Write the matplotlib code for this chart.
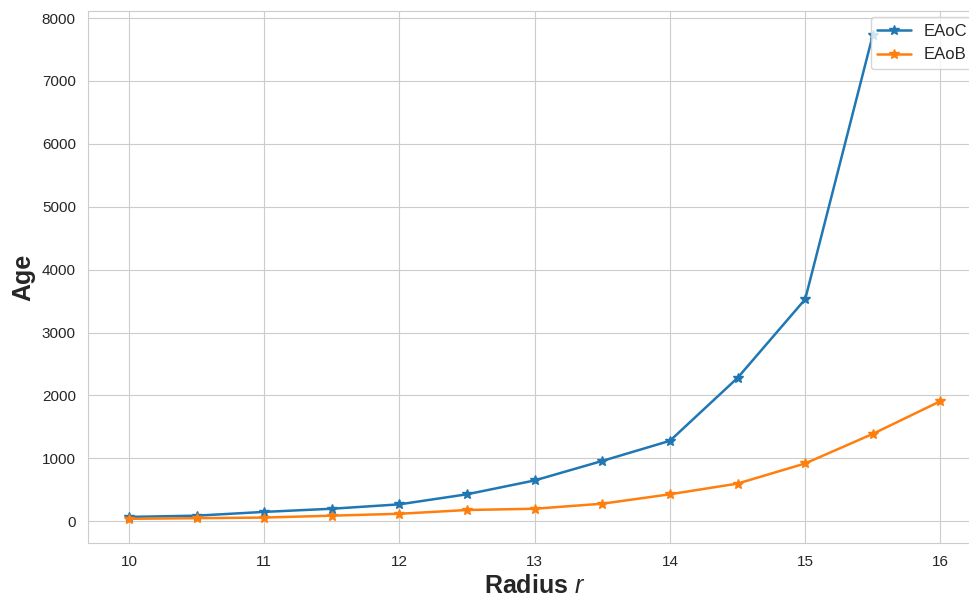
import numpy as np
import seaborn as sns
from matplotlib import pyplot as plt

# radius values and mean ages per method
radius = [10, 10.5, 11, 11.5, 12, 12.5, 13, 13.5, 14, 14.5, 15, 15.5, 16]
eaoc = [70, 90, 150, 200, 270, 430, 650, 960, 1280, 2280, 3530, 7730, np.nan]
eaob = [40, 50, 60, 90, 120, 180, 200, 280, 430, 600, 920, 1390, 1910]

sns.set_style("whitegrid")
plt.rcParams['font.family'] = ['Liberation Sans', 'DejaVu Sans']
plt.rcParams['mathtext.fontset'] = 'custom'
plt.rcParams['mathtext.it'] = 'Liberation Sans:italic'
plt.rcParams['mathtext.rm'] = 'Liberation Sans'

fig = plt.figure(figsize=(9.69, 6), dpi=100)
ax = fig.add_subplot(111)
fig.subplots_adjust(left=0.0912, right=1.0124, top=0.982, bottom=0.095)

ax.plot(radius, eaoc, marker='*', markersize=7, linewidth=1.8, label='EAoC')
ax.plot(radius, eaob, marker='*', markersize=7, linewidth=1.8, label='EAoB')

hfont = {'fontweight': 'bold', 'fontsize': 18}
ax.set_xlabel('Radius $r$', **hfont, labelpad=3)
ax.set_ylabel('Age', **hfont, labelpad=5)
ax.tick_params(labelsize=11, pad=5.5)

ax.legend(loc='upper right', fontsize=12, borderaxespad=0.4)

plt.savefig("out.png", dpi=100)
